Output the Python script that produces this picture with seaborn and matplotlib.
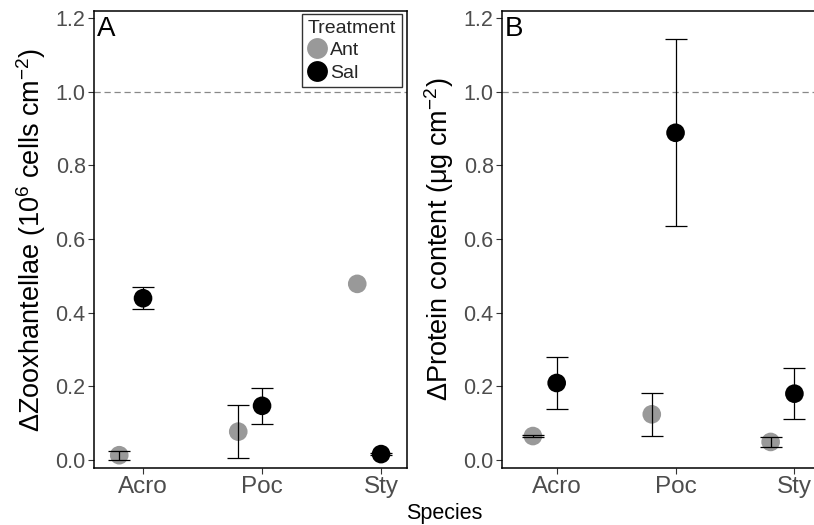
import numpy as np
import pandas as pd
import matplotlib
matplotlib.use("Agg")
import matplotlib.pyplot as plt
import seaborn as sns

# ---- data ----
species = ["Acro", "Poc", "Sty"]
treatments = ["Ant", "Sal"]

zoox_mean_ant = [0.013, 0.077, 0.478]
zoox_se_ant = [0.012, 0.072, np.nan]
zoox_mean_sal = [0.439, 0.147, 0.016]
zoox_se_sal = [0.030, 0.048, 0.002]

prot_mean_ant = [0.065, 0.124, 0.049]
prot_se_ant = [0.003, 0.059, 0.0125]
prot_mean_sal = [0.209, 0.888, 0.180]
prot_se_sal = [0.070, 0.254, 0.070]

yticks = [0.0, 0.2, 0.4, 0.6, 0.8, 1.0, 1.2]
ytick_labels = ["0.0", "0.2", "0.4", "0.6", "0.8", "1.0", "1.2"]

colors = {"Ant": "#999999", "Sal": "#000000"}
dodge = {"Ant": -0.2, "Sal": 0.0}

sns.set_theme(style="white")
plt.rcParams["font.family"] = ["Liberation Sans", "DejaVu Sans"]
plt.rcParams["mathtext.fontset"] = "custom"
plt.rcParams["mathtext.rm"] = "Liberation Sans"
plt.rcParams["mathtext.it"] = "Liberation Sans:italic"
plt.rcParams["mathtext.bf"] = "Liberation Sans:bold"


def make_df(mean_ant, se_ant, mean_sal, se_sal):
    rows = []
    for t, m, s in (("Ant", mean_ant, se_ant), ("Sal", mean_sal, se_sal)):
        for i, sp in enumerate(species):
            rows.append({"Species": sp, "Treatment": t, "pos": i + dodge[t],
                         "mean": m[i], "se": s[i]})
    return pd.DataFrame(rows)


df_a = make_df(zoox_mean_ant, zoox_se_ant, zoox_mean_sal, zoox_se_sal)
df_b = make_df(prot_mean_ant, prot_se_ant, prot_mean_sal, prot_se_sal)

W, H = 814, 525
fig = plt.figure(figsize=(W / 100, H / 100), dpi=100)
axA = fig.add_axes([94 / W, 1 - 468 / H, (407 - 94) / W, (468 - 11) / H])
axB = fig.add_axes([502 / W, 1 - 468 / H, (817 - 502) / W, (468 - 11) / H])


def draw(ax, df, xlim, ylabel, letter, legend):
    ax.axhline(1.0, color="#888888", lw=0.9, ls=(0, (5, 3)), zorder=1)
    sns.scatterplot(data=df, x="pos", y="mean", hue="Treatment",
                    palette=colors, hue_order=treatments, s=180,
                    edgecolor="none", linewidth=0, ax=ax, zorder=3,
                    legend=legend)
    d = df.dropna(subset=["se"])
    ax.errorbar(d["pos"], d["mean"], yerr=d["se"], fmt="none",
                ecolor="black", elinewidth=0.9, capsize=8, capthick=0.9,
                zorder=4)
    ax.set_xlim(*xlim)
    ax.set_ylim(-0.0217, 1.2185)
    ax.set_xticks(range(len(species)))
    ax.set_xticklabels(species, fontsize=17.5, color="#4D4D4D")
    ax.set_yticks(yticks)
    ax.set_yticklabels(ytick_labels, fontsize=15.5, color="#4D4D4D")
    ax.tick_params(axis="both", which="both", direction="out", length=4,
                   width=0.8, color="#333333", pad=2, bottom=True, left=True)
    ax.set_xlabel("")
    ax.set_ylabel(ylabel, fontsize=19.5, color="black", labelpad=5)
    for sp in ax.spines.values():
        sp.set_color("black")
        sp.set_linewidth(1.1)
    ax.text(0.008, 0.988, letter, transform=ax.transAxes, fontsize=20,
            va="top", ha="left", color="black")


draw(axA, df_a, (-0.412, 2.218),
     "ΔZooxhantellae (10$^{6}$ cells cm$^{-2}$)", "A", True)
draw(axB, df_b, (-0.46, 2.19),
     "ΔProtein content (μg cm$^{-2}$)", "B", False)
axB.spines["right"].set_visible(False)

handles, labels = axA.get_legend_handles_labels()
for h in handles:
    try:
        h.set_markersize(15)
    except Exception:
        pass
leg = axA.legend(handles=handles, labels=labels, title="Treatment",
                 loc="upper right", bbox_to_anchor=(0.983, 0.994),
                 borderaxespad=0, fontsize=14, title_fontsize=14,
                 frameon=True, fancybox=False, handletextpad=0.15,
                 handlelength=1.0, borderpad=0.3, labelspacing=0.25,
                 alignment="left")
leg.get_frame().set_edgecolor("black")
leg.get_frame().set_linewidth(1.0)

fig.text(444 / W, 1 - 513 / H, "Species", fontsize=15.5, ha="center",
         va="center", color="black")

fig.savefig("out.png", dpi=100)
